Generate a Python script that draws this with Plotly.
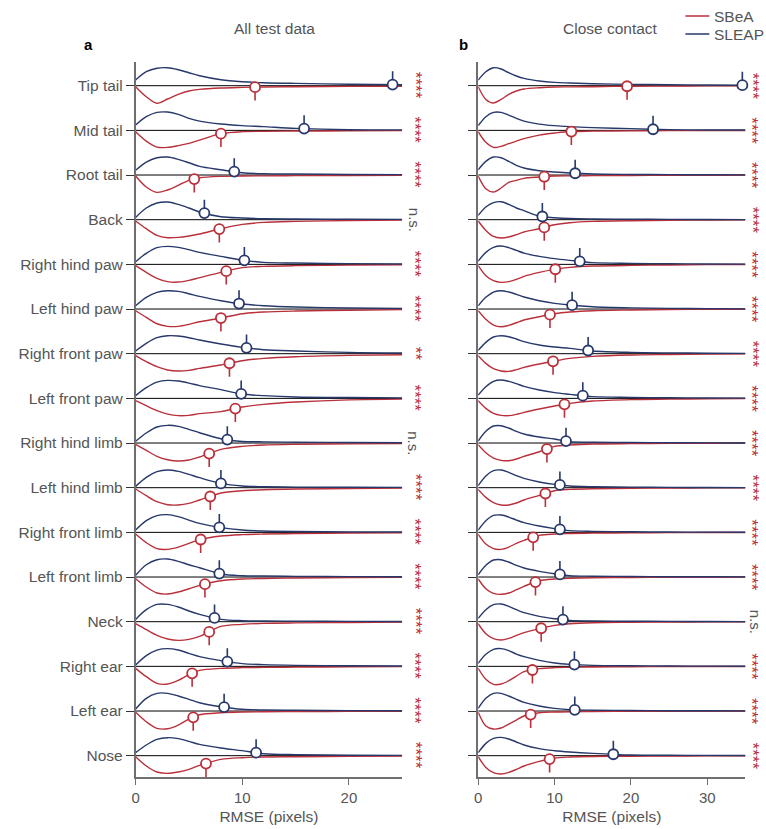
import numpy as np
import plotly.graph_objects as go

# ---------------- data ----------------
PARTS = ["Tip tail", "Mid tail", "Root tail", "Back", "Right hind paw", "Left hind paw",
         "Right front paw", "Left front paw", "Right hind limb", "Left hind limb",
         "Right front limb", "Left front limb", "Neck", "Right ear", "Left ear", "Nose"]

GRID_A = [0, 1, 2, 3, 4, 5, 6, 8, 10, 12, 15, 20, 25]
GRID_B = [0, 1, 2, 3, 4, 5, 6, 8, 10, 12, 15, 20, 25, 30, 35]

SLEAP_MEAN_A = [24.1, 15.8, 9.25, 6.45, 10.2, 9.7, 10.4, 9.9, 8.6, 8.0, 7.85, 7.85, 7.4, 8.6, 8.3, 11.3]
SBEA_MEAN_A = [11.2, 8.0, 5.5, 7.85, 8.5, 8.0, 8.8, 9.35, 6.9, 7.0, 6.1, 6.5, 6.9, 5.3, 5.4, 6.6]
SLEAP_MEAN_B = [34.6, 22.9, 12.7, 8.4, 13.3, 12.3, 14.4, 13.7, 11.5, 10.7, 10.7, 10.7, 11.1, 12.6, 12.65, 17.7]
SBEA_MEAN_B = [19.5, 12.2, 8.65, 8.65, 10.1, 9.4, 9.8, 11.3, 9.0, 8.8, 7.2, 7.5, 8.25, 7.1, 6.87, 9.35]

# density (arbitrary units) sampled on GRID_A / GRID_B
SLEAP_DENS_A = [
    [5.7, 14, 17.5, 18, 16, 13, 10, 6, 4, 3, 2.3, 1.5, 1],
    [5.3, 13.7, 18, 18.3, 16, 12, 9.3, 6.3, 4.7, 3.7, 2.0, 0.6, 0.5],
    [4.7, 13, 17.3, 18, 15.7, 12.3, 8.7, 5.3, 2.3, 1.3, 1, 0.6, 0.4],
    [2.3, 11.7, 16.7, 17.7, 15.3, 11.7, 7.7, 3, 1.7, 1, 0.7, 0.4, 0.3],
    [2.7, 11, 16.7, 18, 17, 14.7, 12, 8, 4.3, 2, 1.3, 0.7, 0.4],
    [3.3, 11.7, 16.7, 18.3, 17.7, 15.3, 12.7, 8.3, 5, 3.3, 2, 1, 0.5],
    [2.7, 10.3, 16, 18, 17.7, 16, 13.7, 9.7, 6.3, 4, 2.7, 1.3, 0.7],
    [2.7, 10.7, 16.3, 18, 17.3, 15.3, 12.7, 8.7, 4.3, 2.7, 1.3, 0.8, 0.5],
    [1.7, 10, 16, 17.7, 16.7, 13.7, 10.3, 4.3, 1.5, 1.2, 0.8, 0.5, 0.3],
    [1.3, 10.3, 16, 17.7, 16.3, 13.3, 10, 4.3, 1.7, 1, 0.6, 0.4, 0.3],
    [2.3, 11.7, 16.7, 17.7, 15.7, 12.3, 9, 4.7, 2.3, 1.3, 0.8, 0.5, 0.3],
    [1.7, 12.3, 17.3, 18, 15.7, 12.3, 9.3, 3, 1.3, 1, 0.6, 0.4, 0.3],
    [2.3, 12, 17.3, 17.3, 14.7, 10.7, 7.3, 2.3, 1, 0.7, 0.5, 0.3, 0.2],
    [1.3, 10.7, 16.3, 17.7, 16.3, 13, 9.7, 5.7, 2.7, 1.7, 1, 0.6, 0.3],
    [2, 12.7, 17.7, 17.7, 15, 11.7, 8.3, 4.3, 1.7, 1, 0.7, 0.4, 0.2],
    [3, 10.7, 16.3, 18, 17, 14.3, 11.3, 7.7, 5, 2, 1, 0.5, 0.3],
]
SBEA_DENS_A = [
    [1, 11, 17.5, 13.3, 8.7, 5.3, 3.7, 2.3, 1.7, 1.3, 1, 0.7, 0.5],
    [1.3, 10.7, 16.7, 17, 15.3, 13, 9.7, 3.3, 1.3, 1, 0.7, 0.5, 0.3],
    [1, 12, 17.3, 15, 10.3, 5.3, 2.7, 1.3, 1, 0.8, 0.6, 0.4, 0.3],
    [1.3, 9, 15.7, 18, 17.7, 16.3, 14.3, 9, 4.7, 2.7, 1.7, 0.8, 0.4],
    [1.3, 8, 14, 17.3, 17.7, 16, 13.3, 8, 3.3, 2, 1.3, 0.8, 0.4],
    [1.7, 8.3, 14.7, 17.3, 17.3, 15.3, 12.7, 9, 4.7, 3, 2, 1.2, 0.6],
    [2, 8, 13, 16.3, 17.3, 16.7, 14.7, 11.3, 7, 4.7, 3, 1.7, 1],
    [2.3, 7.3, 12.3, 15.7, 17.3, 17, 15.3, 13.3, 8.7, 6, 3.7, 1.5, 0.8],
    [1.3, 7.3, 13.3, 16.7, 18, 17, 14, 6.3, 3.3, 2, 1.3, 0.8, 0.4],
    [1.3, 8, 14, 17, 17.3, 15.7, 12.3, 5.3, 3, 2, 1.3, 0.8, 0.4],
    [1.7, 10.3, 16.3, 17, 14.7, 11, 7.3, 3.7, 2.3, 1.7, 1.2, 0.7, 0.4],
    [1.7, 10, 16, 17, 15, 11.7, 8.3, 3.7, 2, 1.5, 1, 0.6, 0.3],
    [2, 8, 13.7, 17.3, 18.7, 17.7, 14.7, 4.7, 2.7, 1.7, 1.2, 0.8, 0.4],
    [2, 10.3, 17, 17.7, 14, 8.3, 4, 2, 1.3, 1, 0.8, 0.5, 0.3],
    [1.3, 10.7, 17.3, 17.7, 14, 8, 3.7, 1.7, 1, 0.8, 0.6, 0.4, 0.2],
    [1, 10.3, 16.3, 17.7, 16.3, 13.7, 9.7, 3.7, 2, 1.3, 1, 0.6, 0.3],
]
SLEAP_DENS_B = [
    [5.7, 14, 18, 16.7, 13, 9.7, 7.3, 4.7, 3.3, 2.7, 2, 1.3, 1, 0.7, 0.5],
    [4.7, 13.7, 18, 18, 15.3, 12, 9.3, 6.3, 4.7, 3.7, 2.7, 1.7, 0.7, 0.4, 0.3],
    [5.3, 13.7, 18, 17.3, 13.7, 9.7, 7, 4.3, 3, 2, 1, 0.6, 0.4, 0.3, 0.2],
    [4.3, 12.7, 17, 18, 15.3, 11.7, 9, 3.5, 2, 1.2, 0.8, 0.5, 0.3, 0.2, 0.1],
    [3.3, 12, 17, 18.3, 16.7, 14, 11.3, 8, 5.7, 4, 1.7, 1, 0.6, 0.4, 0.2],
    [3.3, 11.7, 17, 18.3, 17, 14.7, 12, 8.3, 5.7, 4, 2.3, 1.2, 0.7, 0.4, 0.2],
    [3.3, 11.3, 16.7, 18, 17, 14.7, 12, 8.7, 6.7, 5.3, 2.7, 1.3, 0.8, 0.5, 0.3],
    [3.3, 11.7, 17, 18.3, 17, 14.7, 12, 8.3, 5.7, 4, 1.7, 1, 0.6, 0.4, 0.2],
    [2, 11.7, 17, 17.3, 15, 11.7, 9, 6, 4, 1.3, 0.8, 0.5, 0.3, 0.2, 0.1],
    [2, 11.7, 17, 17.7, 15.3, 12, 9.3, 5.7, 3.3, 1.7, 1, 0.6, 0.3, 0.2, 0.1],
    [2.3, 11.7, 17, 17.3, 15.3, 12.3, 9.7, 6.3, 3.7, 1.7, 1, 0.6, 0.3, 0.2, 0.1],
    [2.3, 11.7, 17, 17.3, 15, 11.7, 9, 5.7, 3.3, 1.3, 0.8, 0.5, 0.3, 0.2, 0.1],
    [3.3, 12, 17, 17.7, 15.3, 12, 9, 5.3, 3, 1.3, 0.8, 0.5, 0.3, 0.2, 0.1],
    [3, 12, 17, 17.7, 15.7, 12.3, 9.7, 6, 3.3, 2, 1, 0.6, 0.3, 0.2, 0.1],
    [2.7, 12.7, 17.7, 17.7, 15, 11.7, 8.7, 5, 2.7, 1.3, 0.8, 0.5, 0.3, 0.2, 0.1],
    [3, 12.3, 17.3, 18.3, 16.7, 13.7, 10.7, 7, 5, 3.7, 2.3, 0.7, 0.4, 0.3, 0.2],
]
SBEA_DENS_B = [
    [1, 13.7, 17.3, 13.7, 8.7, 5.3, 3.3, 2, 1.3, 1.2, 1, 0.5, 0.3, 0.2, 0.1],
    [1.3, 12, 17, 16, 13.3, 10.7, 8.3, 4.7, 2.7, 1.2, 0.8, 0.5, 0.3, 0.2, 0.1],
    [1, 13.7, 17, 13, 7.3, 5.3, 3.3, 2, 1, 0.8, 0.6, 0.4, 0.3, 0.2, 0.1],
    [1.3, 10.7, 16.7, 18.3, 17.3, 15, 12.3, 9, 5, 3, 1.7, 1, 0.6, 0.3, 0.2],
    [1.3, 11.3, 16.3, 18, 17.3, 15, 12, 8, 5, 3, 1.7, 1, 0.6, 0.3, 0.2],
    [1.7, 10.3, 16, 17.7, 16.3, 13.7, 11, 7.7, 4.7, 3, 1.7, 1, 0.5, 0.3, 0.2],
    [2, 9.7, 15, 17.3, 17.7, 16, 13.7, 10.3, 7.3, 4.7, 2.7, 1.3, 0.8, 0.4, 0.2],
    [2.3, 10, 15, 17, 17.3, 16, 14, 10.7, 7.7, 5, 2.7, 1.3, 0.8, 0.4, 0.2],
    [1.7, 9.7, 15, 17.3, 17.7, 16, 13.3, 8.7, 3.3, 2, 1, 0.6, 0.3, 0.2, 0.1],
    [1.7, 9.7, 15, 17.3, 17.3, 15.3, 12.3, 7.7, 3, 1.7, 1, 0.6, 0.3, 0.2, 0.1],
    [2, 11.7, 16.3, 17, 14.7, 11, 8, 3, 1.7, 1.2, 0.8, 0.5, 0.3, 0.2, 0.1],
    [2, 11.7, 16.3, 17.3, 16, 12.7, 9.3, 3.7, 2, 1.3, 0.8, 0.5, 0.3, 0.2, 0.1],
    [2, 12, 17, 18.3, 16.7, 13.7, 11, 7, 3.7, 2, 1, 0.6, 0.3, 0.2, 0.1],
    [2, 13, 18, 17.7, 14.3, 9.7, 5.3, 2.3, 1.3, 1, 0.6, 0.4, 0.2, 0.1, 0.1],
    [1.3, 15, 18, 17, 13, 9, 5, 1.7, 1, 0.7, 0.5, 0.3, 0.2, 0.1, 0.1],
    [1, 11.7, 17, 18.3, 16.7, 13.7, 10.3, 5.7, 2.3, 1.3, 0.8, 0.5, 0.3, 0.2, 0.1],
]

SIG_A = ["****", "****", "****", "n.s.", "****", "****", "**", "****",
         "n.s.", "****", "****", "****", "****", "****", "****", "****"]
SIG_B = ["****"] * 12 + ["n.s."] + ["****"] * 3

X_MAX_A = 25
X_MAX_B = 35
X_TICKS_A = [0, 10, 20]
X_TICKS_B = [0, 10, 20, 30]

# ---------------- style ----------------
NAVY = "#27386a"
RED = "#b9303b"
TXT = "#555555"
AXC = "#6f6f6f"
FONT = "Liberation Sans, Arial, sans-serif"
W, H = 766, 829
SCALE = 1 / 44.67          # density units -> row units
STICK = 0.30               # marker stick length (row units)

n = len(PARTS)
bases = [n - 1 - i for i in range(n)]

fig = go.Figure()


def add_panel(xa, ya, grid, sl_d, sb_d, sl_m, sb_m, xmax):
    # baselines
    bx, by = [], []
    for b in bases:
        bx += [0, xmax, None]
        by += [b, b, None]
    fig.add_trace(go.Scatter(x=bx, y=by, mode="lines", xaxis=xa, yaxis=ya,
                             line=dict(color="black", width=1), hoverinfo="skip",
                             showlegend=False))
    for i, b in enumerate(bases):
        hs = np.array(sb_d[i]) * SCALE
        fig.add_trace(go.Scatter(x=grid, y=b - hs, mode="lines", xaxis=xa, yaxis=ya,
                                 line=dict(color=RED, width=1.4, shape="spline", smoothing=0.9),
                                 showlegend=False, hoverinfo="skip"))
        hl = np.array(sl_d[i]) * SCALE
        fig.add_trace(go.Scatter(x=grid, y=b + hl, mode="lines", xaxis=xa, yaxis=ya,
                                 line=dict(color=NAVY, width=1.4, shape="spline", smoothing=0.9),
                                 showlegend=False, hoverinfo="skip"))
    # sticks and markers
    for means, dens, col, sign in [(sb_m, sb_d, RED, -1), (sl_m, sl_d, NAVY, 1)]:
        sx, sy, mx, my = [], [], [], []
        for i, b in enumerate(bases):
            m = means[i]
            h = np.interp(m, grid, dens[i]) * SCALE
            yc = b + sign * h
            sx += [m, m, None]
            sy += [yc, yc + sign * STICK, None]
            mx.append(m)
            my.append(yc)
        fig.add_trace(go.Scatter(x=sx, y=sy, mode="lines", xaxis=xa, yaxis=ya,
                                 line=dict(color=col, width=1.6), showlegend=False,
                                 hoverinfo="skip"))
        fig.add_trace(go.Scatter(x=mx, y=my, mode="markers", xaxis=xa, yaxis=ya,
                                 marker=dict(symbol="circle", size=10, color="white",
                                             line=dict(color=col, width=1.8)),
                                 showlegend=False, cliponaxis=False))


add_panel("x", "y", GRID_A, SLEAP_DENS_A, SBEA_DENS_A, SLEAP_MEAN_A, SBEA_MEAN_A, X_MAX_A)
add_panel("x2", "y2", GRID_B, SLEAP_DENS_B, SBEA_DENS_B, SLEAP_MEAN_B, SBEA_MEAN_B, X_MAX_B)

y_lo, y_hi = -0.484, 15.524
dom_y = [(H - 777.3) / H, (H - 62.3) / H]

common_x = dict(showgrid=False, zeroline=False, showline=True, linecolor=AXC, linewidth=1.6,
                ticks="outside", ticklen=6, tickwidth=1.3, tickcolor=AXC,
                tickfont=dict(family=FONT, size=15, color=TXT),
                title=dict(text="RMSE (pixels)", font=dict(family=FONT, size=15.5, color=TXT),
                           standoff=6))
common_y = dict(showgrid=False, zeroline=False, showline=True, linecolor=AXC, linewidth=1.6,
                ticks="outside", ticklen=8, tickwidth=1.2, tickcolor="#333333",
                range=[y_lo, y_hi], tickvals=bases, domain=dom_y,
                tickfont=dict(family=FONT, size=15.5, color=TXT))

fig.update_layout(
    width=W, height=H, autosize=False,
    margin=dict(l=0, r=0, t=0, b=0),
    paper_bgcolor="white", plot_bgcolor="white",
    showlegend=False,
    xaxis=dict(domain=[132.3 / W, 400.3 / W], range=[0, X_MAX_A], tickvals=X_TICKS_A,
               anchor="y", **common_x),
    xaxis2=dict(domain=[476.7 / W, 745.3 / W], range=[0, X_MAX_B], tickvals=X_TICKS_B,
                anchor="y2", **common_x),
    yaxis=dict(anchor="x", ticktext=PARTS, **common_y),
    yaxis2=dict(anchor="x2", ticktext=[""] * n, **common_y),
)


def txt(text, x, y, size, color, xanchor="center", **kw):
    return dict(text=text, x=x / W, y=1 - y / H, xref="paper", yref="paper",
                xanchor=xanchor, yanchor="middle", showarrow=False,
                font=dict(family=FONT, size=size, color=color), **kw)


ann = []
# panel titles and letters
ann.append(txt("All test data", 271.5, 29, 15.5, TXT))
ann.append(txt("Close contact", 609.7, 29, 15.5, TXT))
ann.append(txt("<b>a</b>", 85, 45, 15, "black"))
ann.append(txt("<b>b</b>", 462, 45, 15, "black"))

# significance marks
for sigs, xs_star, xs_ns, yref in [(SIG_A, 413, 412, "y"), (SIG_B, 752, 755, "y2")]:
    for i, s in enumerate(sigs):
        ns = s == "n.s."
        ann.append(dict(text=s, x=(xs_ns if ns else xs_star) / W, y=bases[i], xref="paper",
                        yref=yref, showarrow=False, textangle=90,
                        xanchor="center", yanchor="middle",
                        font=dict(family=FONT, size=15 if ns else 17,
                                  color=TXT if ns else RED)))

# legend
for lab, col, yy in [("SBeA", RED, 16), ("SLEAP", NAVY, 34)]:
    fig.add_shape(type="line", xref="paper", yref="paper", x0=685 / W, x1=709 / W,
                  y0=1 - yy / H, y1=1 - yy / H, line=dict(color=col, width=1.5))
    ann.append(txt(lab, 712, yy, 15.5, TXT, xanchor="left"))

fig.update_layout(annotations=ann)
fig.write_html("out.html", config={"displayModeBar": False},
               post_script="document.body.style.margin='0px';"
                           "document.body.style.overflow='hidden';")
